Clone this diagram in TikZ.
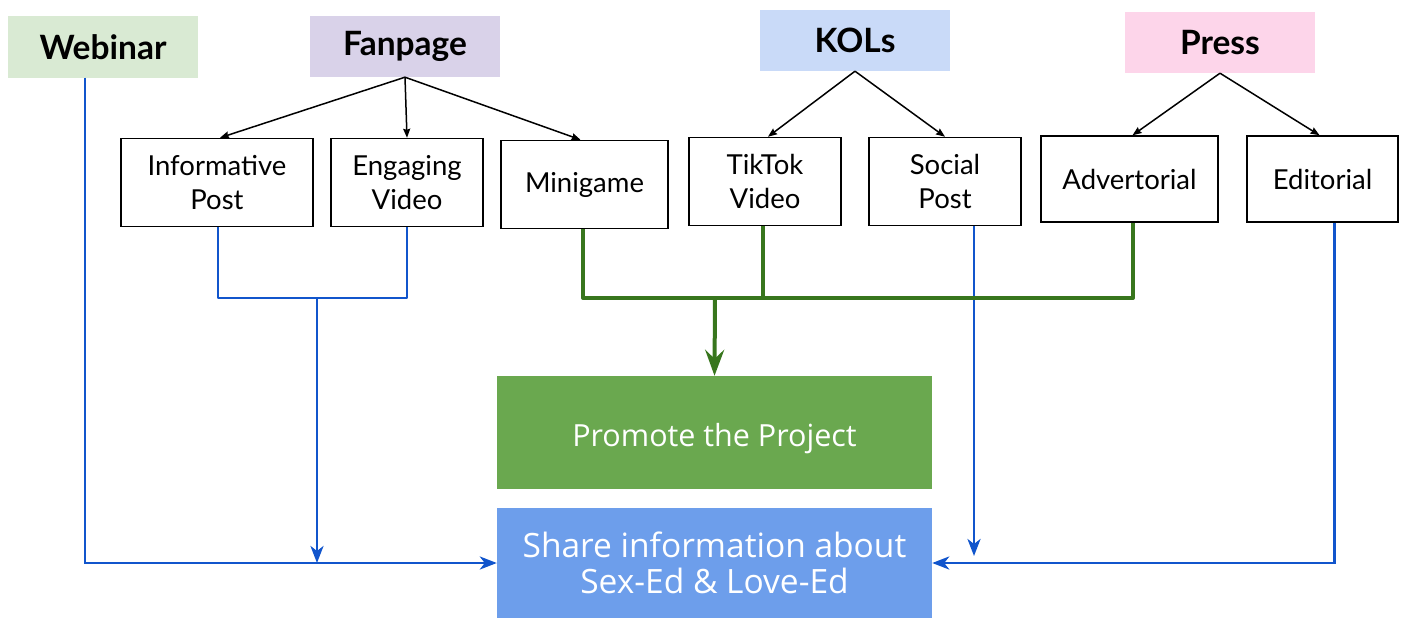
\documentclass[tikz,border=0pt]{standalone}
\usepackage{fontspec}
\setmainfont{Lato}
\newfontfamily\opensans{Open Sans}
\usetikzlibrary{arrows.meta,calc}
\definecolor{webfill}{HTML}{D9EAD3}
\definecolor{fanfill}{HTML}{D9D2E9}
\definecolor{kolfill}{HTML}{C9DAF8}
\definecolor{pressfill}{HTML}{FDD5EA}
\definecolor{promfill}{HTML}{6AA84F}
\definecolor{sharefill}{HTML}{6D9EEB}
\definecolor{gline}{HTML}{38761D}
\definecolor{bline}{HTML}{1155CC}
\tikzset{
  head/.style={rectangle, inner sep=0pt, minimum width=190pt, minimum height=61pt, font=\fontsize{33.5}{38}\selectfont\bfseries},
  item/.style={rectangle, draw=black, line width=1.5pt, inner sep=0pt, minimum height=88pt, align=center, font=\fontsize{27.5}{34}\selectfont},
  goal/.style={rectangle, inner sep=0pt, minimum width=435pt, text=white, align=center, font=\opensans\fontsize{30.5}{37}\selectfont},
  tree/.style={line width=1.5pt, -{Stealth[length=9pt,width=7pt,inset=1pt]}},
  bl/.style={bline, line width=2.8pt},
  blarrow/.style={bl, -{Stealth[length=17pt,width=13pt,inset=5pt]}},
  gr/.style={gline, line width=4pt},
  grarrow/.style={gr, -{Stealth[length=26pt,width=19pt,inset=9pt]}}
}
\begin{document}
\begin{tikzpicture}[x=1pt,y=-1pt]
\useasboundingbox (0,0) rectangle (1405,618);
% headers
\node[head, fill=webfill] (web) at (103,47) {Webinar};
\node[head, fill=fanfill] (fan) at (405,46.5) {Fanpage};
\node[head, fill=kolfill] (kol) at (855,40.5) {KOLs};
\node[head, fill=pressfill] (press) at (1220,42.5) {Press};
% items
\node[item, minimum width=192pt] (inf) at (217,182.5) {Informative\\Post};
\node[item, minimum width=152pt] (eng) at (407,182.5) {Engaging\\Video};
\node[item, minimum width=167pt] (mini) at (584.5,184.5) {Minigame};
\node[item, minimum width=152pt] (tik) at (765,181.5) {TikTok\\Video};
\node[item, minimum width=152pt] (soc) at (945,181.5) {Social\\Post};
\node[item, minimum width=177pt, minimum height=86pt] (adv) at (1129.5,179) {Advertorial};
\node[item, minimum width=151pt, minimum height=86pt] (edi) at (1322.5,179) {Editorial};
% goals
\node[goal, fill=promfill, minimum height=113pt, text depth=0pt] (prom) at (714.5,432.5) {\raisebox{-4pt}{Promote the Project}};
\node[goal, fill=sharefill, minimum height=110pt] (share) at (714.5,563) {\raisebox{-11pt}[0pt][0pt]{\fontsize{33.5}{37}\selectfont\begin{tabular}{@{}c@{}}Share information about\\[-1pt]Sex-Ed \& Love-Ed\end{tabular}}};
% tree arrows
\draw[tree] (fan.south) -- ([xshift=3pt]inf.north);
\draw[tree] (fan.south) -- (eng.north);
\draw[tree] (fan.south) -- ([xshift=-4pt]mini.north);
\draw[tree] (kol.south) -- ([xshift=3pt]tik.north);
\draw[tree] (kol.south) -- (soc.north);
\draw[tree] (press.south) -- ([xshift=3pt]adv.north);
\draw[tree] (press.south) -- ([xshift=-3pt]edi.north);
% blue connectors
\coordinate (j1) at (317,298);
\coordinate (socend) at (974,556);
\draw[bl, line join=round] ([xshift=1pt]inf.south) |- (j1) -| (eng.south);
\draw[blarrow] (j1) -- (j1 |- share.west);
\draw[blarrow] ([xshift=-18pt]web.south) |- (share.west);
\draw[blarrow] ([xshift=29pt]soc.south) -- (socend);
\draw[blarrow] ([xshift=12pt]edi.south) |- (share.east);
% green connectors
\coordinate (j2) at (715,298);
\draw[gr, line join=round] ([xshift=-1.5pt]mini.south) |- ([xshift=3.5pt]adv.south |- j2) -- ([xshift=3.5pt]adv.south);
\draw[gr] ([xshift=-2pt]tik.south) -- ([xshift=-2pt]tik.south |- j2);
\draw[grarrow] (j2) -- (prom.north);
\end{tikzpicture}
\end{document}
